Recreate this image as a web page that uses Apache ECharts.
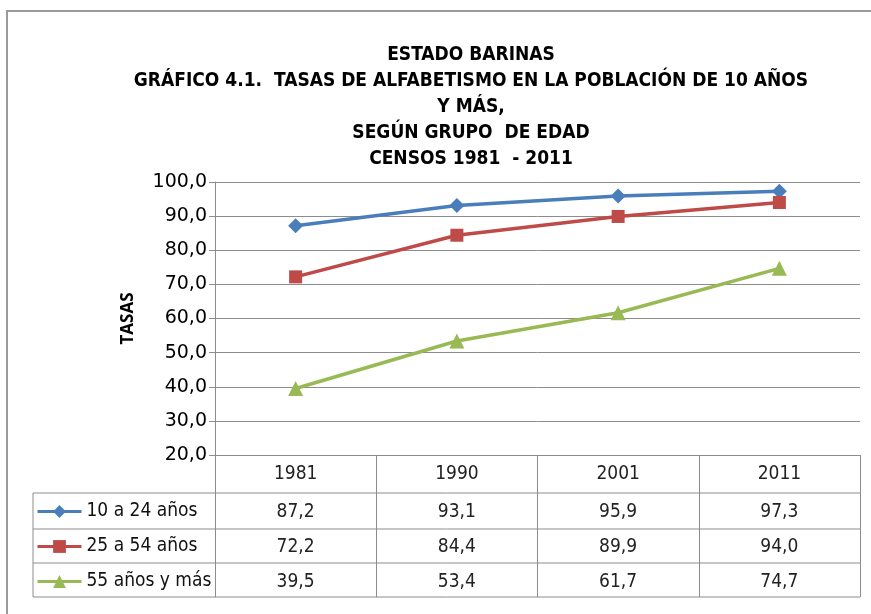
<!DOCTYPE html>
<html><head><meta charset="utf-8">
<script src="https://cdn.jsdelivr.net/npm/echarts@6/dist/echarts.min.js"></script>
<style>html,body{margin:0;padding:0;background:#fff}#c{width:871px;height:614px}</style>
</head><body><div id="c"></div>
<script>
const titleLines = ['ESTADO BARINAS','GRÁFICO 4.1.  TASAS DE ALFABETISMO EN LA POBLACIÓN DE 10 AÑOS','Y MÁS,','SEGÚN GRUPO  DE EDAD','CENSOS 1981  - 2011'];
const categories = ['1981','1990','2001','2011'];
const seriesNames = ['10 a 24 años','25 a 54 años','55 años y más'];
const s1 = [87.2, 93.1, 95.9, 97.3];
const s2 = [72.2, 84.4, 89.9, 94.0];
const s3 = [39.5, 53.4, 61.7, 74.7];
const yTicks = {min: 20, max: 100, interval: 10};
const yName = 'TASAS';

const colors = ['#4A7EBB','#BE4B48','#98B954'];
const symbols = ['diamond','rect','triangle'];
const symSizes = [15, 13, 15];
const allData = [s1, s2, s3];
const fmt = v => v.toFixed(1).replace('.', ',');
const tableFont = '"Liberation Sans Narrow","DejaVu Sans Condensed",sans-serif';
const rowCenters = [511, 546, 581];

const chart = echarts.init(document.getElementById('c'), null, {renderer:'canvas'});
const option = {
  animation: false,
  backgroundColor: '#fff',
  grid: {left: 215, right: 11, top: 182, bottom: 159},
  xAxis: {
    type: 'category', data: categories, boundaryGap: true,
    axisLine: {show: true, lineStyle: {color: '#8c8c8c', width: 1}},
    axisTick: {show: true, length: 142, lineStyle: {color: '#8c8c8c', width: 1}},
    axisLabel: {margin: 10, fontSize: 19, color: '#222', fontFamily: tableFont}
  },
  yAxis: {
    type: 'value', min: yTicks.min, max: yTicks.max, interval: yTicks.interval,
    name: yName, nameLocation: 'middle', nameGap: 78, nameRotate: 90,
    nameTextStyle: {fontSize: 17, fontWeight: 'bold', color: '#000', fontFamily: '"Open Sans",sans-serif'},
    axisLine: {show: true, lineStyle: {color: '#8c8c8c', width: 1}},
    axisTick: {show: true, length: 6, lineStyle: {color: '#8c8c8c'}},
    axisLabel: {margin: 8, fontSize: 19, color: '#000', fontFamily: '"DejaVu Sans",sans-serif', formatter: v => fmt(v)},
    splitLine: {show: true, lineStyle: {color: '#8c8c8c', width: 1}}
  },
  legend: seriesNames.map((n, i) => ({
    data: [n], left: 36, top: rowCenters[i] - 9, padding: 0, itemWidth: 44, itemHeight: 16, itemGap: 0,
    lineStyle: {width: 3},
    textStyle: {fontSize: 19, color: '#111', fontFamily: tableFont}
  })),
  series: seriesNames.map((n, i) => ({
    name: n, type: 'line', data: allData[i], symbol: symbols[i], symbolSize: symSizes[i],
    lineStyle: {color: colors[i], width: 3.5}, itemStyle: {color: colors[i]}
  }))
};
chart.setOption(option);

const g = [];
g.push({type: 'rect', shape: {x: 7, y: 11, width: 1000, height: 1000}, style: {fill: null, stroke: '#9a9a9a', lineWidth: 2}, silent: true, z: -1});
titleLines.forEach((t, i) => g.push({type: 'text', x: 471, y: 55 + i * 26, style: {text: t, align: 'center', verticalAlign: 'middle', fontSize: 19, fontWeight: 'bold', fill: '#000', fontFamily: tableFont}}));
[493, 529, 563, 597].forEach(y => g.push({type: 'line', shape: {x1: 33, y1: y, x2: 860, y2: y}, style: {stroke: '#8c8c8c', lineWidth: 1}}));
g.push({type: 'line', shape: {x1: 33, y1: 493, x2: 33, y2: 597}, style: {stroke: '#8c8c8c', lineWidth: 1}});
allData.forEach((arr, r) => arr.forEach((v, c) => {
  const x = chart.convertToPixel({xAxisIndex: 0}, categories[c]);
  g.push({type: 'text', x: x, y: rowCenters[r] + 1, style: {text: fmt(v), align: 'center', verticalAlign: 'middle', fontSize: 19, fill: '#222', fontFamily: tableFont}});
}));
chart.setOption({graphic: g});
</script></body></html>
